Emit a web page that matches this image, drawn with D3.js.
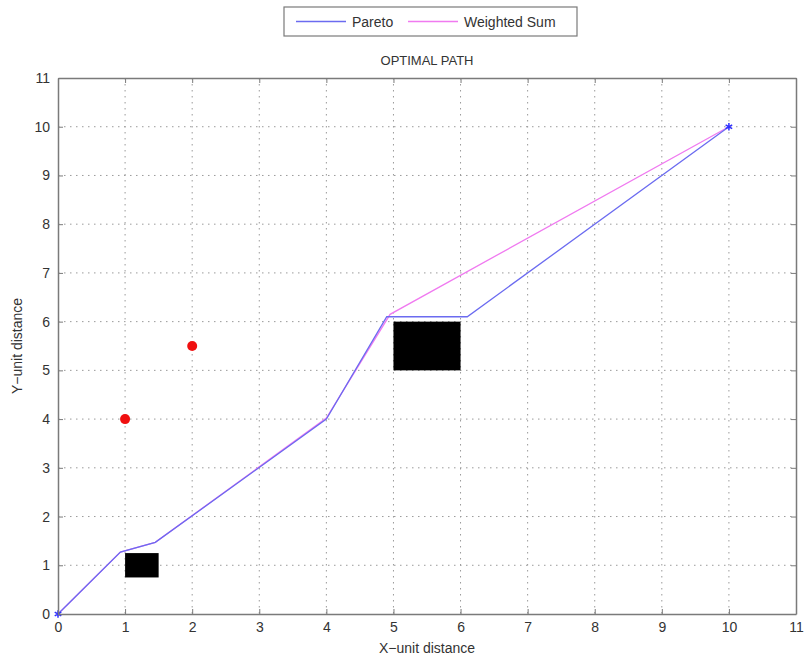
<!DOCTYPE html>
<html>
<head>
<meta charset="utf-8">
<script src="https://cdn.jsdelivr.net/npm/d3@7"></script>
<style>
  body { margin: 0; background: #fff; }
  text { font-family: "Liberation Sans", Arial, sans-serif; fill: #333; }
</style>
</head>
<body>
<svg id="chart" width="804" height="663"></svg>
<script>
// data
let xTicks = [0, 1, 2, 3, 4, 5, 6, 7, 8, 9, 10, 11];
let yTicks = [0, 1, 2, 3, 4, 5, 6, 7, 8, 9, 10, 11];
let paretoPath = [[0, 0], [0.93, 1.27], [1.45, 1.47], [4.0, 4.0], [4.9, 6.1], [6.1, 6.1], [10, 10]];
let weightedPath = [[0, 0], [0.93, 1.27], [1.45, 1.47], [4.0, 4.02], [4.95, 6.15], [10, 10]];
let obstacles = [[1, 0.75, 1.5, 1.25], [5, 5, 6, 6]];   // x0, y0, x1, y1
let redPoints = [[1, 4], [2, 5.5]];
let legendNames = ['Pareto', 'Weighted Sum'];
let lineColors = ['#6b6bf0', '#f07af0'];

let svg = d3.select('#chart');
let margin = { top: 78, right: 8, bottom: 49, left: 58 },
    width = 804 - margin.left - margin.right,
    height = 663 - margin.top - margin.bottom;

let g = svg.append('g')
    .attr('transform', 'translate(' + margin.left + ',' + margin.top + ')');

let xScale = d3.scaleLinear().domain([0, 11]).range([0, width]);
let yScale = d3.scaleLinear().domain([0, 11]).range([height, 0]);

// dotted grid
g.selectAll('.vgrid').data(xTicks.slice(1, -1)).enter().append('line')
    .attr('x1', d => xScale(d)).attr('x2', d => xScale(d))
    .attr('y1', 0).attr('y2', height)
    .attr('stroke', '#9a9a9a').attr('stroke-dasharray', '1.5,4.5');
g.selectAll('.hgrid').data(yTicks.slice(1, -1)).enter().append('line')
    .attr('y1', d => yScale(d)).attr('y2', d => yScale(d))
    .attr('x1', 0).attr('x2', width)
    .attr('stroke', '#9a9a9a').attr('stroke-dasharray', '1.5,4.5');

// obstacles
g.selectAll('.obs').data(obstacles).enter().append('rect')
    .attr('x', d => xScale(d[0]))
    .attr('y', d => yScale(d[3]))
    .attr('width', d => xScale(d[2]) - xScale(d[0]))
    .attr('height', d => yScale(d[1]) - yScale(d[3]))
    .attr('fill', '#000');

// red points
g.selectAll('.pt').data(redPoints).enter().append('circle')
    .attr('cx', d => xScale(d[0])).attr('cy', d => yScale(d[1]))
    .attr('r', 5).attr('fill', '#f01010');

let line = d3.line().x(d => xScale(d[0])).y(d => yScale(d[1]));

g.append('path').datum(weightedPath)
    .attr('d', line).attr('fill', 'none')
    .attr('stroke', lineColors[1]).attr('stroke-width', 1.3);
g.append('path').datum(paretoPath)
    .attr('d', line).attr('fill', 'none')
    .attr('stroke', lineColors[0]).attr('stroke-width', 1.3);

// star markers at start/end
let star = d3.symbol().type(d3.symbolAsterisk).size(40);
g.selectAll('.mk').data([paretoPath[0], paretoPath[paretoPath.length - 1]]).enter().append('path')
    .attr('d', star)
    .attr('transform', d => 'translate(' + xScale(d[0]) + ',' + yScale(d[1]) + ')')
    .attr('fill', 'none').attr('stroke', '#3030ff').attr('stroke-width', 1.5);

// axes with inward ticks on all four sides
let axisColor = '#7a7a7a';
let xAxis = g.append('g').attr('transform', 'translate(0,' + height + ')')
    .call(d3.axisBottom(xScale).tickValues(xTicks).tickSizeInner(-5).tickSizeOuter(0).tickPadding(8));
let yAxis = g.append('g')
    .call(d3.axisLeft(yScale).tickValues(yTicks).tickSizeInner(-5).tickSizeOuter(0).tickPadding(8));
let xTop = g.append('g')
    .call(d3.axisTop(xScale).tickValues(xTicks).tickSizeInner(-5).tickSizeOuter(0).tickFormat(''));
let yRight = g.append('g').attr('transform', 'translate(' + width + ',0)')
    .call(d3.axisRight(yScale).tickValues(yTicks).tickSizeInner(-5).tickSizeOuter(0).tickFormat(''));

[xAxis, yAxis, xTop, yRight].forEach(a => {
    a.select('.domain').attr('stroke', axisColor).attr('stroke-width', 1.5);
    a.selectAll('.tick line').attr('stroke', axisColor);
    a.selectAll('.tick text').style('font-size', '14px').style('fill', '#333');
});

// title and axis labels
svg.append('text')
    .attr('x', margin.left + width / 2).attr('y', 65)
    .attr('text-anchor', 'middle').style('font-size', '13px')
    .text('OPTIMAL PATH');
svg.append('text')
    .attr('x', margin.left + width / 2).attr('y', 653)
    .attr('text-anchor', 'middle').style('font-size', '14px')
    .text('X\u2212unit distance');
svg.append('text')
    .attr('transform', 'translate(22,' + (margin.top + height / 2) + ') rotate(-90)')
    .attr('text-anchor', 'middle').style('font-size', '14px')
    .text('Y\u2212unit distance');

// legend
let legend = svg.append('g').attr('transform', 'translate(284,7)');
legend.append('rect')
    .attr('width', 293).attr('height', 29)
    .attr('fill', '#fff').attr('stroke', '#7a7a7a').attr('stroke-width', 1.2);
let legendX = [[12, 62, 68], [124, 174, 180]];
legendNames.forEach((name, i) => {
    legend.append('line')
        .attr('x1', legendX[i][0]).attr('x2', legendX[i][1])
        .attr('y1', 14.5).attr('y2', 14.5)
        .attr('stroke', lineColors[i]).attr('stroke-width', 1.3);
    legend.append('text')
        .attr('x', legendX[i][2]).attr('y', 19.5)
        .style('font-size', '14px')
        .text(name);
});
</script>
</body>
</html>
